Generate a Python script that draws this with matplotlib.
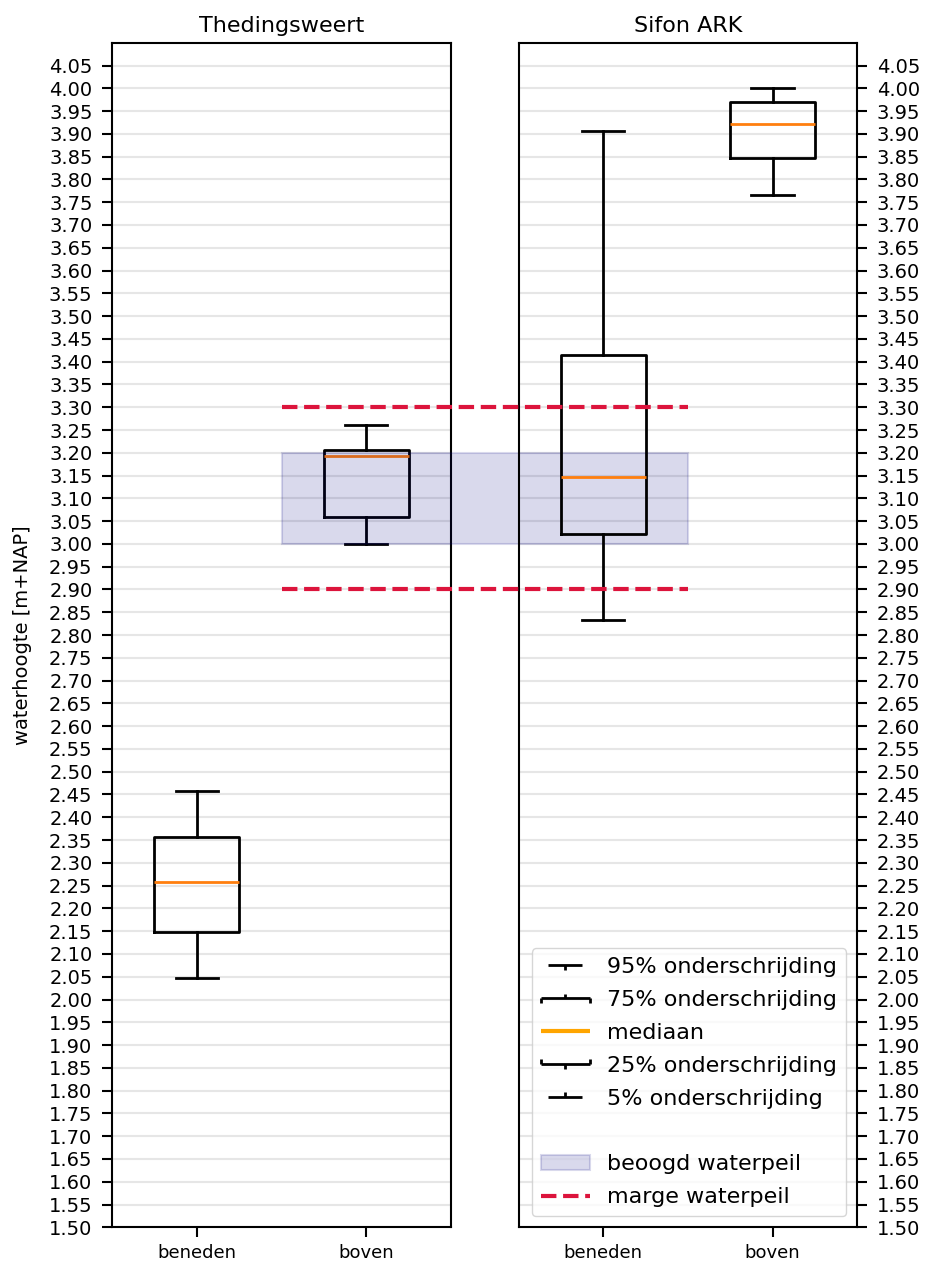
import numpy as np
import matplotlib
matplotlib.use("Agg")
import matplotlib.pyplot as plt
from matplotlib.lines import Line2D
from matplotlib.patches import Patch, Rectangle
from matplotlib.legend_handler import HandlerBase

# data
stations = ['Thedingsweert', 'Sifon ARK']
locations = ['beneden', 'boven']
p5 = [[2.047, 3.000], [2.832, 3.766]]
p25 = [[2.148, 3.058], [3.021, 3.846]]
p50 = [[2.257, 3.193], [3.147, 3.921]]
p75 = [[2.357, 3.207], [3.414, 3.969]]
p95 = [[2.458, 3.262], [3.906, 4.001]]
target_low, target_high = 3.0, 3.2
margin_low, margin_high = 2.9, 3.3

legend_labels = ['95% onderschrijding', '75% onderschrijding', 'mediaan',
                 '25% onderschrijding', '5% onderschrijding', ' ',
                 'beoogd waterpeil', 'marge waterpeil']


class BoxPartHandler(HandlerBase):
    """draws a piece of a boxplot as legend handle"""
    def __init__(self, kind):
        super().__init__()
        self.kind = kind

    def create_artists(self, legend, orig_handle, xdescent, ydescent,
                       width, height, fontsize, trans):
        x0 = -xdescent
        x1 = -xdescent + width
        xm = (x0 + x1) / 2
        y = (height - ydescent) / 2
        t = height * 0.3
        segs = []
        color = 'black'
        lw = 2
        if self.kind == 'p95':
            segs = [([x0 + 0.15 * width, x1 - 0.15 * width], [y, y]), ([xm, xm], [y, y - t])]
        elif self.kind == 'p75':
            segs = [([x0, x1], [y, y]), ([x0, x0], [y, y - t]), ([x1, x1], [y, y - t]),
                    ([xm, xm], [y, y + t])]
        elif self.kind == 'med':
            segs = [([x0, x1], [y, y])]
            color = 'orange'
            lw = 3
        elif self.kind == 'p25':
            segs = [([x0, x1], [y, y]), ([x0, x0], [y, y + t]), ([x1, x1], [y, y + t]),
                    ([xm, xm], [y, y - t])]
        elif self.kind == 'p5':
            segs = [([x0 + 0.15 * width, x1 - 0.15 * width], [y, y]), ([xm, xm], [y, y + t])]
        arts = []
        for xs, ys in segs:
            l = Line2D(xs, ys, color=color, lw=lw, solid_capstyle='butt')
            l.set_transform(trans)
            arts.append(l)
        return arts


def main():
    fig = plt.figure(figsize=(9.26, 12.65), dpi=100)
    ax1 = fig.add_axes([0.1210, 0.0298, 0.3661, 0.9364])
    ax2 = fig.add_axes([0.5601, 0.0298, 0.3656, 0.9364])

    yticks = np.round(np.arange(1.5, 4.06, 0.05), 2)
    boxprops = dict(color='black', linewidth=2)
    medianprops = dict(color='#ff7f0e', linewidth=2)

    for i, ax in enumerate([ax1, ax2]):
        stats = []
        for j, loc in enumerate(locations):
            stats.append(dict(label=loc, whislo=p5[i][j], q1=p25[i][j], med=p50[i][j],
                              q3=p75[i][j], whishi=p95[i][j], fliers=[]))
        ax.bxp(stats, positions=[1, 2], widths=0.5, showfliers=False,
               boxprops=boxprops, whiskerprops=boxprops, capprops=boxprops,
               medianprops=medianprops)
        ax.set_xlim(0.5, 2.5)
        ax.set_ylim(1.5, 4.1)
        ax.set_yticks(yticks)
        ax.set_yticklabels(['%.2f' % v for v in yticks])
        ax.set_xticks([1, 2])
        ax.set_xticklabels(locations, fontsize=13)
        ax.grid(axis='y', color='0.9', linewidth=1.5)
        ax.set_axisbelow(True)
        ax.set_title(stations[i], fontsize=16, pad=8)
        for s in ax.spines.values():
            s.set_linewidth(1.5)
        ax.tick_params(axis='y', width=1.5, length=7, pad=7, labelsize=14)
        ax.tick_params(axis='x', width=1.5, length=7, labelsize=13, pad=5)

    ax1.set_ylabel('waterhoogte [m+NAP]', fontsize=14, labelpad=12)
    ax2.yaxis.tick_right()
    ax2.yaxis.set_label_position('right')

    # band + margins run from the middle of the left panel to the middle of the right one;
    # drawn on the right axes so they sit above its grid
    pt = ax1.transData.transform((1.5, 0))
    x_start = ax2.transData.inverted().transform(pt)[0]
    ax2.add_patch(Rectangle((x_start, target_low), 1.5 - x_start, target_high - target_low,
                            facecolor='navy', edgecolor='navy', alpha=0.15, lw=1.5,
                            clip_on=False, zorder=1.6))
    for m in [margin_low, margin_high]:
        ax2.plot([x_start, 1.5], [m, m], '--', color='crimson', lw=3, clip_on=False, zorder=3)

    handles = [Line2D([], []) for _ in range(5)]
    kinds = ['p95', 'p75', 'med', 'p25', 'p5']
    hmap = {h: BoxPartHandler(k) for h, k in zip(handles, kinds)}
    blank = Line2D([], [], color='none')
    band = Patch(facecolor='navy', edgecolor='navy', alpha=0.15, lw=1.5)
    marge = Line2D([], [], ls='--', color='crimson', lw=3)
    ax2.legend(handles + [blank, band, marge], legend_labels, handler_map=hmap,
               loc='lower right', fontsize=16, handlelength=2.2, labelspacing=0.58)

    fig.savefig('out.png', dpi=100)


if __name__ == "__main__":
    main()
